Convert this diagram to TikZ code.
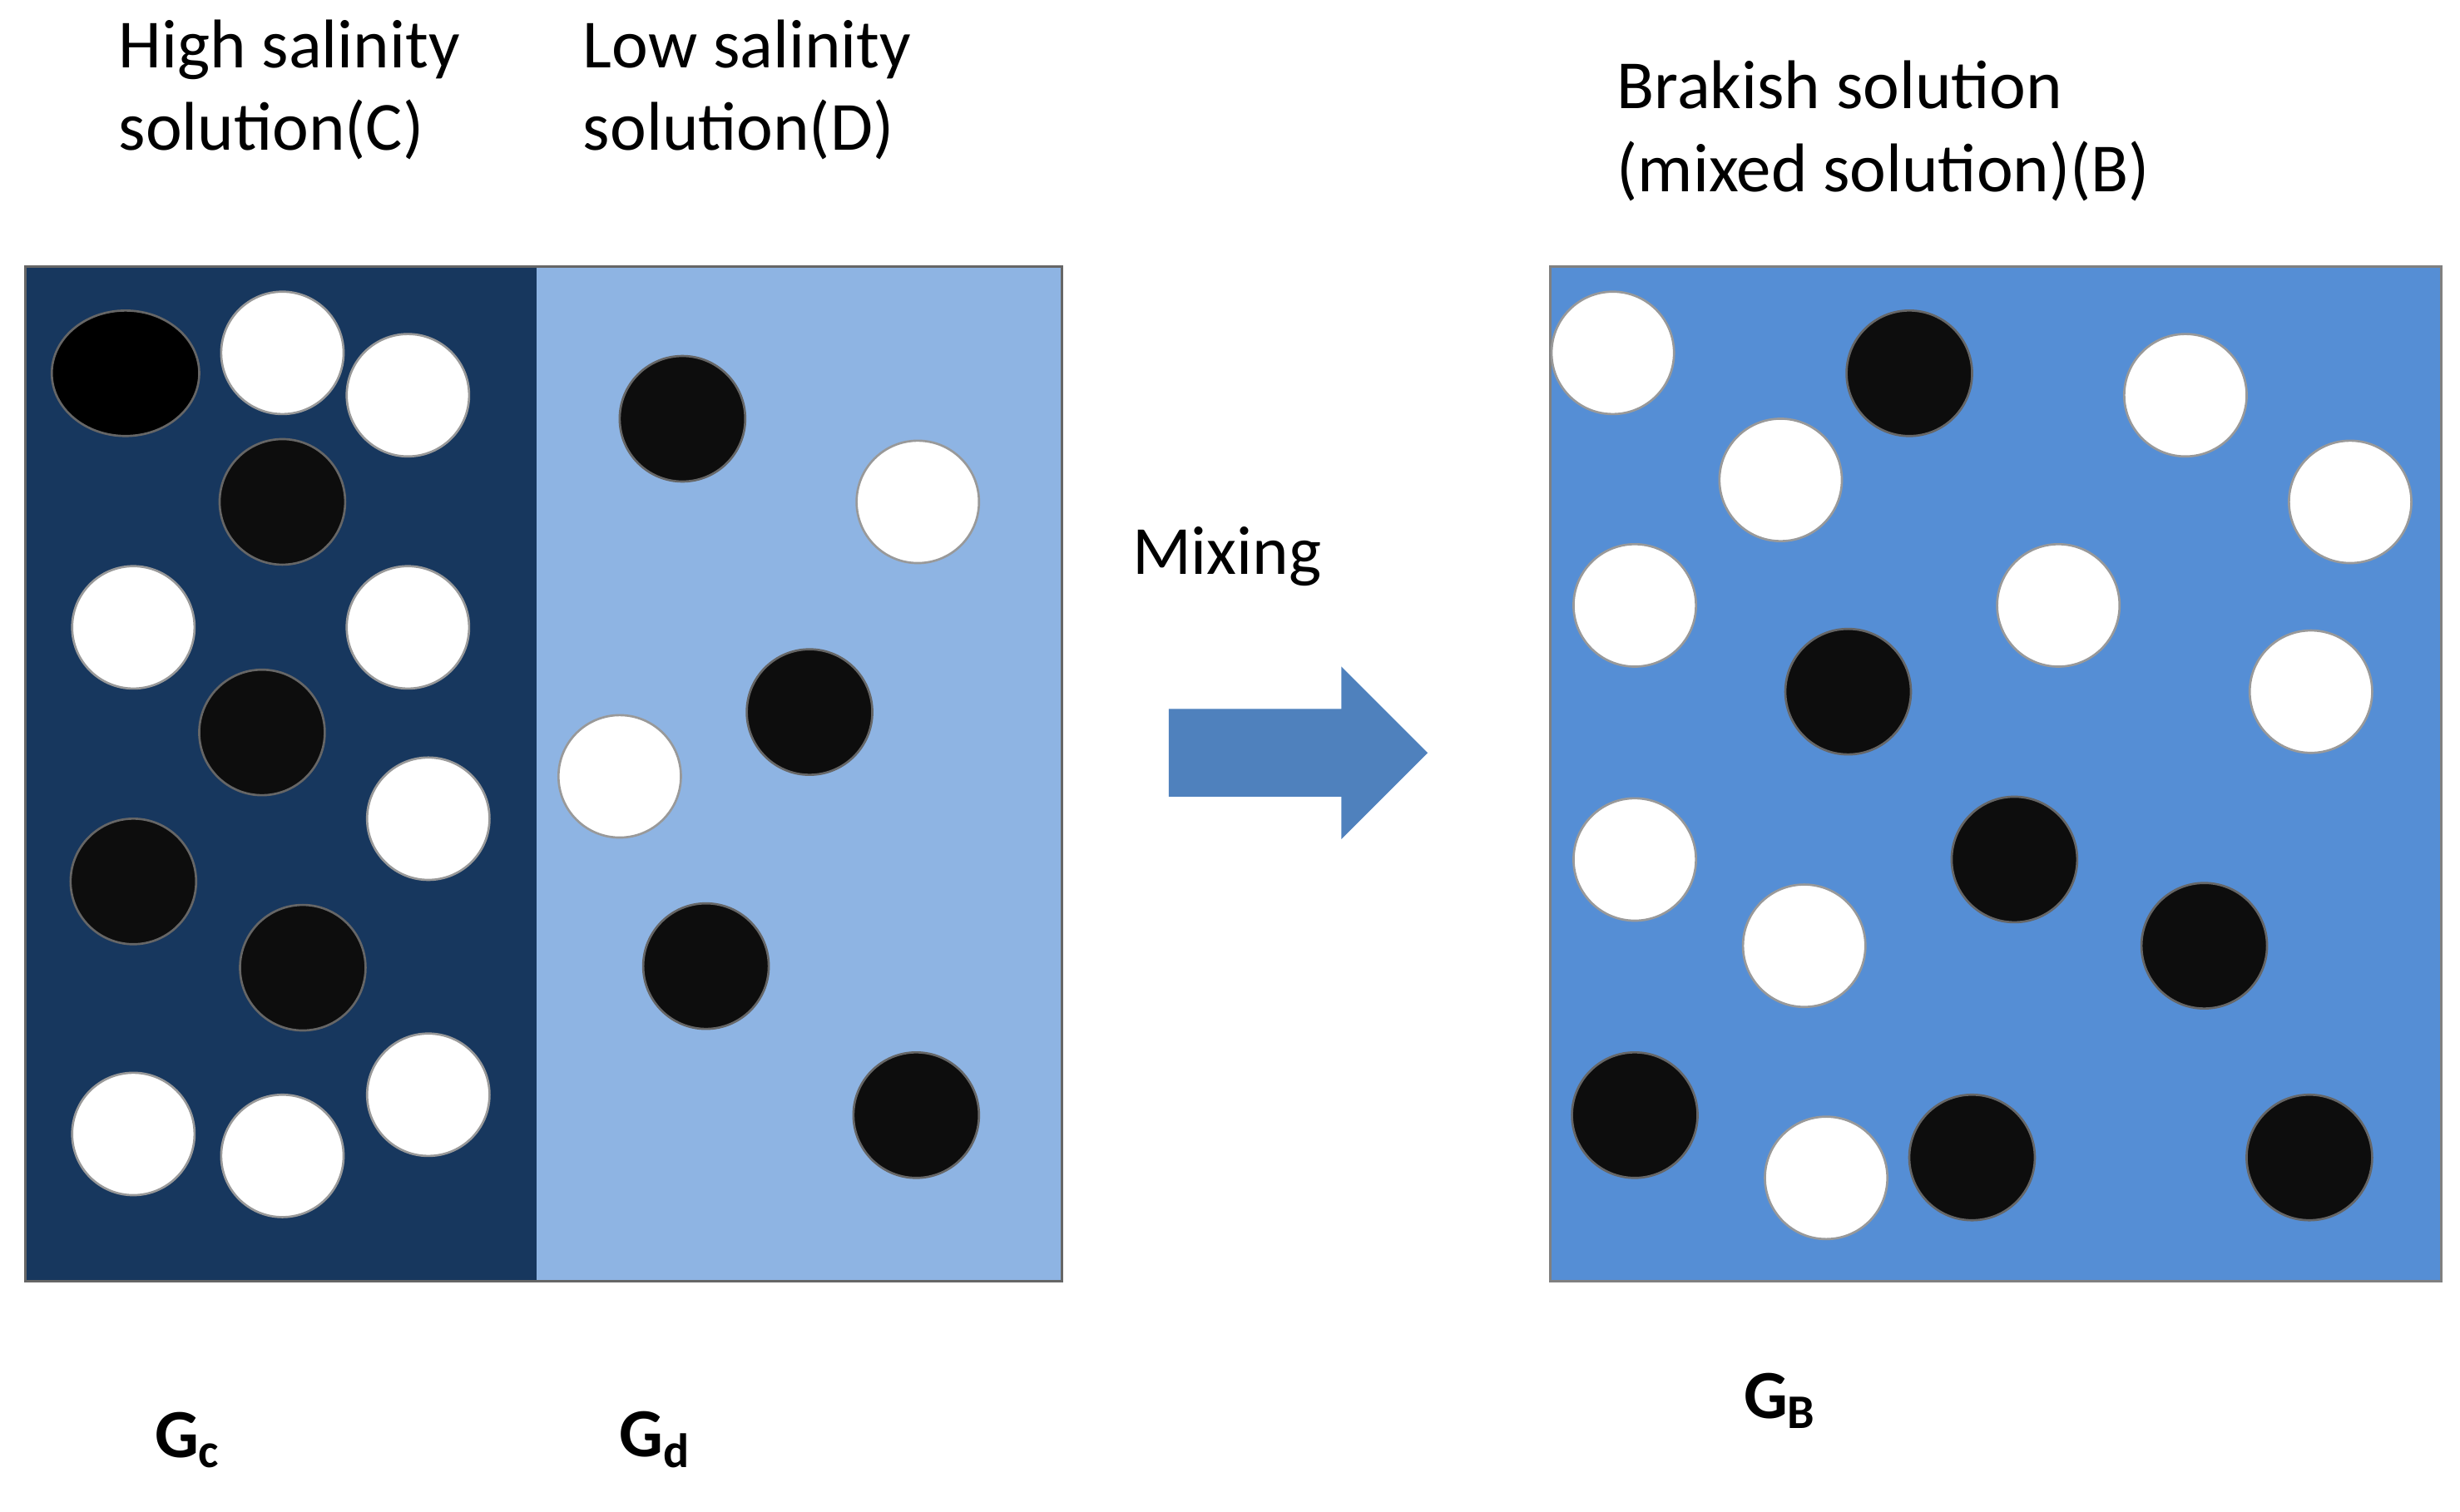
\documentclass[tikz,border=0pt]{standalone}
\usepackage{fontspec}
\setmainfont{Carlito}
\begin{document}
\begin{tikzpicture}[x=0.01cm,y=-0.01cm,
  wb/.style={circle,fill=white,draw=black!40,line width=0.4pt,minimum size=0.78cm,inner sep=0pt},
  bb/.style={circle,fill=black!95,draw=black!60,line width=0.4pt,minimum size=0.8cm,inner sep=0pt},
  lbl/.style={anchor=north west,align=left,font=\fontsize{12.5}{15}\selectfont,inner sep=0pt},
  gl/.style={font=\fontsize{12.5}{15}\selectfont\bfseries}]
\useasboundingbox (0,0) rectangle (1568,964);
\definecolor{dk}{HTML}{17375E}\definecolor{lt}{HTML}{8EB4E3}\definecolor{md}{HTML}{558ED5}\definecolor{ar}{HTML}{4F81BD}
\fill[dk] (16,170) rectangle (342,817);
\fill[lt] (342,170) rectangle (677,817);
\draw[black!60,line width=0.5pt] (16,170) rectangle (677,817);
\fill[md,draw=black!50,line width=0.5pt] (988,170) rectangle (1556,817);
\node[lbl] (t1) at (75,12) {High salinity\\solution(C)};
\node[lbl] (t2) at (371,12) {Low salinity\\solution(D)};
\node[lbl] (t3) at (1030,38) {Brakish solution\\(mixed solution)(B)};
\node[font=\fontsize{12.5}{15}\selectfont] (mx) at (782,355) {Mixing};
\fill[ar] (745,452) -- (855,452) -- (855,425) -- (910,480) -- (855,535) -- (855,508) -- (745,508) -- cycle;
\node[gl] (gc) at (120,918) {G\textsubscript{c}};
\node[gl] (gd) at (418,918) {G\textsubscript{d}};
\node[gl] (gb) at (1135,893) {G\textsubscript{B}};
\fill[black,draw=black!60] (80,238) ellipse [x radius=47,y radius=40];
\foreach \x/\y [count=\i] in {180/225,260/252,85/400,260/400,273/522,85/723,180/737,273/698,585/320,395/495,
 1028/225,1393/252,1135/306,1498/320,1042/386,1312/386,1473/441,1042/548,1150/603,1164/751}
  \node[wb] (w\i) at (\x,\y) {};
\foreach \x/\y [count=\i] in {180/320,167/467,85/562,193/617,435/267,516/454,450/616,584/711,
 1217/238,1178/441,1284/548,1405/603,1042/711,1257/738,1472/738}
  \node[bb] (b\i) at (\x,\y) {};
\end{tikzpicture}
\end{document}
